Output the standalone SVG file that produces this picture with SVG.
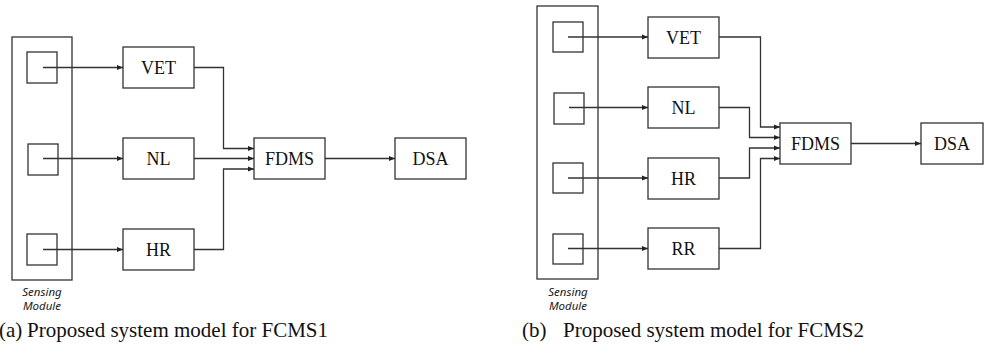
<svg xmlns="http://www.w3.org/2000/svg" width="984" height="357" viewBox="0 0 984 357">
<style>
.box{fill:#fff;stroke:#333;stroke-width:1.3}
.mod{fill:none;stroke:#333;stroke-width:1.3}
.lbl{font-family:"Liberation Serif","Times New Roman",serif;font-size:18px;fill:#111;text-anchor:middle}
.sm{font-family:"Noto Sans","Open Sans",sans-serif;font-style:italic;font-size:11.5px;fill:#222;text-anchor:middle}
.cap{font-family:"Liberation Serif","Times New Roman",serif;font-size:21px;fill:#111}
.con{fill:none;stroke:#333;stroke-width:1.3}
</style>
<defs>
<marker id="ah" markerUnits="userSpaceOnUse" markerWidth="7" markerHeight="6" refX="6" refY="3" orient="auto">
<path d="M0,0.5 L6,3 L0,5.5 z" fill="#222"/>
</marker>
</defs>

<!-- Diagram (a) -->
<g id="a-sensing">
<rect class="mod" x="12" y="37" width="60" height="243"/>
<rect class="mod" x="27" y="52" width="30" height="31"/>
<rect class="mod" x="28" y="144" width="30" height="31"/>
<rect class="mod" x="27" y="234" width="30" height="31"/>
<text class="sm" x="42" y="296">Sensing</text>
<text class="sm" x="42" y="310">Module</text>
</g>
<g id="a-vet"><rect class="box" x="123" y="47" width="71" height="41"/><text class="lbl" x="158.5" y="74">VET</text></g>
<g id="a-nl"><rect class="box" x="123" y="138" width="71" height="41"/><text class="lbl" x="158.5" y="165">NL</text></g>
<g id="a-hr"><rect class="box" x="123" y="229" width="71" height="41"/><text class="lbl" x="158.5" y="256">HR</text></g>
<g id="a-fdms"><rect class="box" x="254" y="138" width="71" height="41"/><text class="lbl" x="289.5" y="165">FDMS</text></g>
<g id="a-dsa"><rect class="box" x="395" y="138" width="71" height="41"/><text class="lbl" x="430.5" y="165">DSA</text></g>

<g id="a-connectors">
<path class="con" d="M43,67.5 H123" marker-end="url(#ah)"/>
<path class="con" d="M43,158.5 H123" marker-end="url(#ah)"/>
<path class="con" d="M43,249.5 H123" marker-end="url(#ah)"/>
<path class="con" d="M194,67.5 H223.5 V148.5 H254" marker-end="url(#ah)"/>
<path class="con" d="M194,158.5 H254" marker-end="url(#ah)"/>
<path class="con" d="M194,249.5 H223.5 V169 H254" marker-end="url(#ah)"/>
<path class="con" d="M325,158.5 H395" marker-end="url(#ah)"/>
</g>

<!-- Diagram (b) -->
<g id="b-sensing">
<rect class="mod" x="537" y="6" width="61" height="273"/>
<rect class="mod" x="553" y="22" width="30" height="30"/>
<rect class="mod" x="554" y="93" width="30" height="31"/>
<rect class="mod" x="553" y="163" width="30" height="30"/>
<rect class="mod" x="553" y="234" width="30" height="30"/>
<text class="sm" x="568" y="296">Sensing</text>
<text class="sm" x="568" y="310">Module</text>
</g>
<g id="b-vet"><rect class="box" x="648" y="17" width="71" height="41"/><text class="lbl" x="683.5" y="44">VET</text></g>
<g id="b-nl"><rect class="box" x="648" y="87" width="71" height="41"/><text class="lbl" x="683.5" y="114">NL</text></g>
<g id="b-hr"><rect class="box" x="648" y="158" width="71" height="41"/><text class="lbl" x="683.5" y="185">HR</text></g>
<g id="b-rr"><rect class="box" x="648" y="228" width="71" height="41"/><text class="lbl" x="683.5" y="255">RR</text></g>
<g id="b-fdms"><rect class="box" x="780" y="123" width="71" height="41"/><text class="lbl" x="815.5" y="150">FDMS</text></g>
<g id="b-dsa"><rect class="box" x="921" y="123" width="62" height="41"/><text class="lbl" x="952" y="150">DSA</text></g>

<g id="b-connectors">
<path class="con" d="M568,37 H648" marker-end="url(#ah)"/>
<path class="con" d="M569,107.5 H648" marker-end="url(#ah)"/>
<path class="con" d="M568,178 H648" marker-end="url(#ah)"/>
<path class="con" d="M568,248.5 H648" marker-end="url(#ah)"/>
<path class="con" d="M719,37 H760.5 V127 H780" marker-end="url(#ah)"/>
<path class="con" d="M719,107.5 H749.5 V137.5 H780" marker-end="url(#ah)"/>
<path class="con" d="M719,178 H749.5 V148 H780" marker-end="url(#ah)"/>
<path class="con" d="M719,248.5 H760.5 V158.5 H780" marker-end="url(#ah)"/>
<path class="con" d="M851,143.5 H921" marker-end="url(#ah)"/>
</g>

<g id="captions">
<text class="cap" x="-1" y="337">(a)</text>
<text class="cap" x="27" y="337">Proposed system model for FCMS1</text>
<text class="cap" x="522" y="337">(b)</text>
<text class="cap" x="563" y="337">Proposed system model for FCMS2</text>
</g>
</svg>
